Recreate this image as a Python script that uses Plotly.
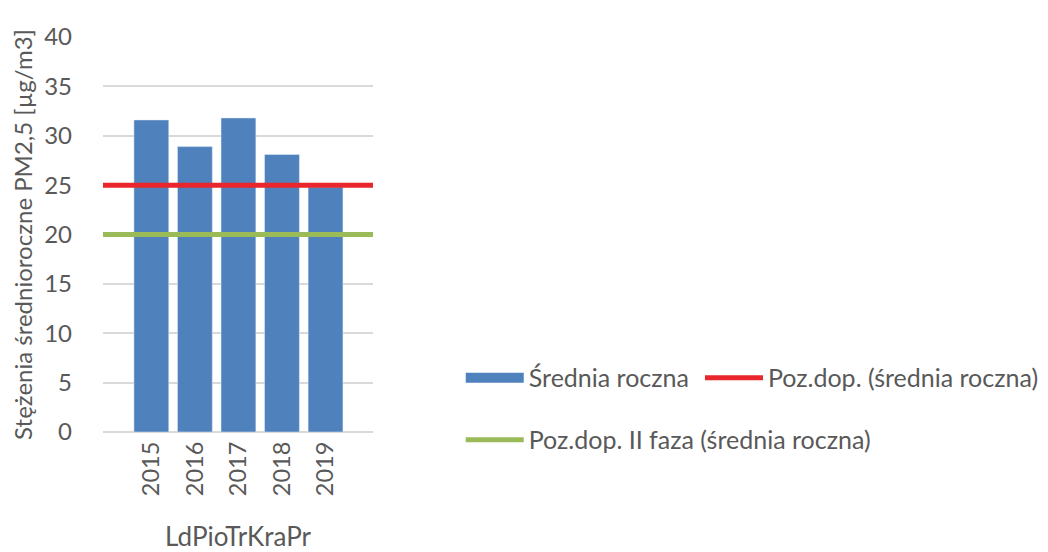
import plotly.graph_objects as go

years = ["2015", "2016", "2017", "2018", "2019"]
srednia = [31.6, 28.9, 31.8, 28.1, 24.8]
poz_dop = [25, 25]
poz_dop_ii = [20, 20]
line_x = [0, 1]

family = "Lato"
grey = "#595959"
blue = "#4f81bd"


def f(size):
    return {"family": family, "size": size, "color": grey}


fig = go.Figure()

# Bars (legend entry drawn as a wide block below)
fig.add_trace(
    go.Bar(
        x=years,
        y=srednia,
        name="Średnia roczna",
        marker={"color": blue},
        showlegend=False,
    )
)

# legend-only entry so the symbol is a wide rectangle like in Excel
fig.add_trace(
    go.Scatter(
        x=[None],
        y=[None],
        mode="lines",
        line={"color": blue, "width": 14},
        name="Średnia roczna",
        legend="legend",
    )
)

fig.add_trace(
    go.Scatter(
        x=line_x,
        y=poz_dop,
        xaxis="x2",
        mode="lines",
        line={"color": "#e8262b", "width": 5},
        name="Poz.dop. (średnia roczna)",
        legend="legend3",
    )
)

fig.add_trace(
    go.Scatter(
        x=line_x,
        y=poz_dop_ii,
        xaxis="x2",
        mode="lines",
        line={"color": "#9bbb59", "width": 5},
        name="Poz.dop. II faza (średnia roczna)",
        legend="legend2",
    )
)

legend_common = {
    "orientation": "h",
    "xanchor": "left",
    "yanchor": "middle",
    "font": f(25),
    "itemwidth": 58,
    "bgcolor": "rgba(0,0,0,0)",
}

fig.update_layout(
    width=1048,
    height=552,
    margin={"l": 95, "r": 683, "t": 29, "b": 128},
    plot_bgcolor="white",
    paper_bgcolor="white",
    font=f(22),
    bargap=0.2,
    xaxis={
        "range": [-1.11, 5.09],
        "tickangle": -90,
        "showgrid": False,
        "showline": False,
        "ticks": "",
        "automargin": False,
        "ticklabelstandoff": 4,
        "tickfont": f(23.5),
        "title": {"text": "LdPioTrKraPr", "standoff": 32, "font": f(26)},
    },
    xaxis2={
        "overlaying": "x",
        "range": [0, 1],
        "visible": False,
    },
    yaxis={
        "range": [0, 40],
        "dtick": 5,
        "gridcolor": "#d9d9d9",
        "gridwidth": 1.5,
        "zeroline": True,
        "zerolinecolor": "#d9d9d9",
        "zerolinewidth": 1.5,
        "ticks": "",
        "automargin": False,
        "ticklabelstandoff": 30,
        "tickfont": f(24),
        "title": {"text": "Stężenia średnioroczne PM2,5 [µg/m3]", "standoff": 12, "font": f(24)},
    },
    showlegend=True,
    legend={**legend_common, "x": 1.325, "y": 0.137},
    legend3={**legend_common, "x": 2.211, "y": 0.137},
    legend2={**legend_common, "x": 1.325, "y": -0.02},
)

fig.write_html("out.html")
